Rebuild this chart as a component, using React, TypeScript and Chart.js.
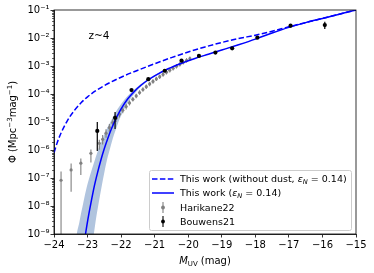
import React, { useEffect, useRef } from 'react';
import { Chart, registerables } from 'chart.js';

Chart.register(...registerables);

// ---------------- data ----------------
const X_MIN = -24;
const X_MAX = -15;
const xTickValues = [-24, -23, -22, -21, -20, -19, -18, -17, -16, -15];
const yTickExponents = [-9, -8, -7, -6, -5, -4, -3, -2, -1];
const redshiftLabel = 'z~4';

// This work (without dust), log10 Phi
const noDustM = [-24.0, -23.9, -23.8, -23.6, -23.4, -23.2, -23.0, -22.75, -22.5, -22.0, -21.5, -21.0, -20.5, -20.0, -19.5, -19.0, -18.5, -18.0, -17.5, -17.0, -16.5, -16.0, -15.5, -15.0];
const noDustLogPhi = [-6.1, -5.72, -5.42, -4.95, -4.6, -4.32, -4.1, -3.88, -3.7, -3.4, -3.15, -2.92, -2.7, -2.5, -2.32, -2.16, -2.02, -1.9, -1.76, -1.6, -1.45, -1.3, -1.15, -1.0];

// This work (with dust), log10 Phi
const dustM = [-23.1, -23.0, -22.9, -22.8, -22.7, -22.6, -22.5, -22.4, -22.3, -22.2, -22.1, -22.0, -21.8, -21.6, -21.4, -21.2, -21.0, -20.6, -20.2, -19.8, -19.4, -19.0, -18.5, -18.0, -17.5, -17.0, -16.5, -16.0, -15.5, -15.0];
const dustLogPhi = [-9.3, -8.55, -7.9, -7.3, -6.8, -6.35, -5.95, -5.6, -5.28, -5.0, -4.75, -4.53, -4.17, -3.9, -3.68, -3.5, -3.35, -3.1, -2.9, -2.73, -2.58, -2.43, -2.24, -2.04, -1.82, -1.62, -1.45, -1.3, -1.15, -1.0];

// uncertainty band edges
const bandUpperM = [-23.6, -23.35, -23.24, -23.13, -23.02, -22.9, -22.78, -22.67, -22.55, -22.44, -22.32, -22.21, -22.1, -21.88, -21.66, -21.45, -21.04, -20.23, -19.02, -18.01, -17.0, -16.0, -15.0];
const bandUpperLogPhi = [-14, -9.3, -8.55, -7.9, -7.3, -6.8, -6.35, -5.95, -5.6, -5.28, -5.0, -4.75, -4.53, -4.17, -3.9, -3.68, -3.35, -2.9, -2.43, -2.04, -1.62, -1.3, -1.0];
const bandLowerM = [-23.6, -22.85, -22.76, -22.67, -22.58, -22.5, -22.42, -22.33, -22.25, -22.16, -22.08, -21.99, -21.9, -21.72, -21.54, -21.35, -20.96, -20.17, -18.98, -17.99, -17.0, -16.0, -15.0];
const bandLowerLogPhi = [-14, -9.3, -8.55, -7.9, -7.3, -6.8, -6.35, -5.95, -5.6, -5.28, -5.0, -4.75, -4.53, -4.17, -3.9, -3.68, -3.35, -2.9, -2.43, -2.04, -1.62, -1.3, -1.0];

// Harikane22
const harikaneM = [-23.79, -23.49, -23.2, -22.9, -22.65, -22.55, -22.45, -22.35, -22.25, -22.15, -22.05, -21.95, -21.85, -21.75, -21.65, -21.55, -21.45, -21.35, -21.25, -21.15, -21.05, -20.95, -20.85, -20.75, -20.65, -20.55, -20.45, -20.35, -20.25, -20.15, -20.05, -19.95];
const harikaneLogPhi = [-7.08, -6.71, -6.47, -6.12, -5.76, -5.62, -5.4, -5.2, -5.02, -4.87, -4.72, -4.58, -4.45, -4.32, -4.19, -4.07, -3.95, -3.84, -3.74, -3.64, -3.55, -3.46, -3.38, -3.3, -3.22, -3.15, -3.08, -3.01, -2.94, -2.87, -2.8, -2.74];
const harikaneLogLo = [-10.0, -7.49, -6.89, -6.45, -5.99, -5.8, -5.56, -5.35, -5.16, -5.0, -4.84, -4.69, -4.55, -4.41, -4.27, -4.15, -4.03, -3.92, -3.82, -3.72, -3.63, -3.54, -3.46, -3.38, -3.3, -3.23, -3.16, -3.09, -3.02, -2.95, -2.88, -2.82];
const harikaneLogHi = [-6.77, -6.48, -6.3, -5.98, -5.63, -5.46, -5.26, -5.07, -4.9, -4.76, -4.61, -4.48, -4.36, -4.23, -4.11, -3.99, -3.87, -3.76, -3.66, -3.56, -3.47, -3.38, -3.3, -3.22, -3.14, -3.07, -3.0, -2.93, -2.86, -2.79, -2.72, -2.66];

// Bouwens21
const bouwensM = [-22.71, -22.18, -21.69, -21.19, -20.7, -20.2, -19.68, -19.19, -18.69, -17.94, -16.95, -15.93];
const bouwensLogPhi = [-5.32, -4.85, -3.86, -3.47, -3.17, -2.81, -2.64, -2.52, -2.37, -1.99, -1.56, -1.54];
const bouwensLogLo = [-6.04, -5.25, -3.9, -3.51, -3.2, -2.84, -2.67, -2.55, -2.43, -2.02, -1.62, -1.68];
const bouwensLogHi = [-5.0, -4.64, -3.82, -3.44, -3.14, -2.78, -2.61, -2.49, -2.32, -1.96, -1.5, -1.42];

const legendLabels = ['This work (without dust, ', 'This work (', 'Harikane22', 'Bouwens21'];

// ---------------- helpers ----------------
const pow10 = (v: number) => Math.pow(10, v);
const toPoints = (ms: number[], logs: number[]) => ms.map((m, i) => ({ x: m, y: pow10(logs[i]) }));
const SUP: Record<string, string> = { '-': '\u207B', '0': '\u2070', '1': '\u00B9', '2': '\u00B2', '3': '\u00B3', '4': '\u2074', '5': '\u2075', '6': '\u2076', '7': '\u2077', '8': '\u2078', '9': '\u2079' };
const sup = (s: string) => s.split('').map((c) => SUP[c] || c).join('');
const FAMILY = '"DejaVu Sans", sans-serif';

type Piece = { text: string; font: string; dy?: number };
function drawPieces(ctx: CanvasRenderingContext2D, pieces: Piece[], x: number, y: number, align: 'left' | 'center') {
  let total = 0;
  pieces.forEach((p) => { ctx.font = p.font; total += ctx.measureText(p.text).width; });
  let cx = align === 'center' ? x - total / 2 : x;
  ctx.textAlign = 'left';
  pieces.forEach((p) => {
    ctx.font = p.font;
    ctx.fillText(p.text, cx, y + (p.dy || 0));
    cx += ctx.measureText(p.text).width;
  });
}

const errorBarPlugin = {
  id: 'errorBars',
  beforeDatasetDraw(chart: any, args: any) {
    const ds = chart.data.datasets[args.index];
    if (!ds.errLo) return;
    const { ctx, chartArea } = chart;
    const ys = chart.scales.y;
    ctx.save();
    ctx.beginPath();
    ctx.rect(chartArea.left, chartArea.top, chartArea.right - chartArea.left, chartArea.bottom - chartArea.top);
    ctx.clip();
    ctx.strokeStyle = ds.errColor;
    ctx.lineWidth = ds.errWidth;
    args.meta.data.forEach((pt: any, i: number) => {
      const y1 = ys.getPixelForValue(ds.errLo[i]);
      const y2 = ys.getPixelForValue(ds.errHi[i]);
      ctx.beginPath();
      ctx.moveTo(pt.x, y1);
      ctx.lineTo(pt.x, y2);
      ctx.stroke();
    });
    ctx.restore();
  },
};

const decorPlugin = {
  id: 'decor',
  afterDraw(chart: any) {
    const { ctx, chartArea } = chart;
    const ys = chart.scales.y;
    const { left, right, top, bottom } = chartArea;
    ctx.save();
    // minor ticks on y
    ctx.strokeStyle = '#000';
    ctx.lineWidth = 0.6;
    for (let e = -9; e < -1; e++) {
      for (let m = 2; m <= 9; m++) {
        const py = Math.round(ys.getPixelForValue(m * Math.pow(10, e))) + 0.5;
        ctx.beginPath();
        ctx.moveTo(left - 2, py);
        ctx.lineTo(left, py);
        ctx.stroke();
      }
    }
    // frame
    ctx.lineWidth = 0.8;
    ctx.strokeRect(left, top, right - left, bottom - top);

    ctx.fillStyle = '#000';
    ctx.textBaseline = 'alphabetic';
    // redshift label
    ctx.font = `10.5px ${FAMILY}`;
    ctx.textAlign = 'center';
    ctx.fillText(redshiftLabel, 99, 39);

    // x title
    drawPieces(ctx, [
      { text: 'M', font: `italic 10px ${FAMILY}` },
      { text: 'UV', font: `7px ${FAMILY}`, dy: 2 },
      { text: ' (mag)', font: `10px ${FAMILY}` },
    ], (left + right) / 2, 264, 'center');

    // y title
    ctx.save();
    ctx.translate(16, (top + bottom) / 2);
    ctx.rotate(-Math.PI / 2);
    drawPieces(ctx, [
      { text: '\u03A6 (Mpc', font: `10px ${FAMILY}` },
      { text: '\u22123', font: `7px ${FAMILY}`, dy: -4 },
      { text: 'mag', font: `10px ${FAMILY}` },
      { text: '\u22121', font: `7px ${FAMILY}`, dy: -4 },
      { text: ')', font: `10px ${FAMILY}` },
    ], 0, 0, 'center');
    ctx.restore();

    // legend
    const bx = 149.5, by = 170.5, bw = 202, bh = 60;
    ctx.beginPath();
    ctx.roundRect(bx, by, bw, bh, 2);
    ctx.fillStyle = 'rgba(255,255,255,0.8)';
    ctx.fill();
    ctx.strokeStyle = '#cccccc';
    ctx.lineWidth = 1;
    ctx.stroke();

    const rows = [179, 193, 207.5, 221.5];
    const hx0 = 152, hx1 = 174, tx = 180;
    // dashed handle
    ctx.strokeStyle = '#0000ff';
    ctx.lineWidth = 1.5;
    ctx.setLineDash([5.5, 2.4]);
    ctx.beginPath(); ctx.moveTo(hx0, rows[0]); ctx.lineTo(hx1, rows[0]); ctx.stroke();
    ctx.setLineDash([]);
    ctx.beginPath(); ctx.moveTo(hx0, rows[1]); ctx.lineTo(hx1, rows[1]); ctx.stroke();
    // errorbar handles
    const hc = (hx0 + hx1) / 2;
    [[rows[2], '#808080'], [rows[3], '#000000']].forEach(([ry, col]: any) => {
      ctx.strokeStyle = col;
      ctx.fillStyle = col;
      ctx.lineWidth = 1.1;
      ctx.beginPath(); ctx.moveTo(hc, ry - 5.5); ctx.lineTo(hc, ry + 5.5); ctx.stroke();
      ctx.beginPath(); ctx.arc(hc, ry, 1.9, 0, Math.PI * 2); ctx.fill();
    });
    ctx.fillStyle = '#000';
    const F = `9.5px ${FAMILY}`;
    const FI = `italic 9.5px ${FAMILY}`;
    const FS = `italic 6.7px ${FAMILY}`;
    const base = 3.4;
    drawPieces(ctx, [
      { text: legendLabels[0], font: F },
      { text: '\u03B5', font: FI },
      { text: 'N', font: FS, dy: 2 },
      { text: ' = 0.14)', font: F },
    ], tx, rows[0] + base, 'left');
    drawPieces(ctx, [
      { text: legendLabels[1], font: F },
      { text: '\u03B5', font: FI },
      { text: 'N', font: FS, dy: 2 },
      { text: ' = 0.14)', font: F },
    ], tx, rows[1] + base, 'left');
    drawPieces(ctx, [{ text: legendLabels[2], font: F }], tx, rows[2] + base, 'left');
    drawPieces(ctx, [{ text: legendLabels[3], font: F }], tx, rows[3] + base, 'left');
    ctx.restore();
  },
};

export default function App() {
  const canvasRef = useRef<HTMLCanvasElement | null>(null);

  useEffect(() => {
    if (!canvasRef.current) return;
    const datasets: any[] = [
      {
        label: 'band upper',
        data: toPoints(bandUpperM, bandUpperLogPhi),
        borderWidth: 0,
        pointRadius: 0,
        fill: false,
        cubicInterpolationMode: 'monotone',
        order: 10,
      },
      {
        label: 'band lower',
        data: toPoints(bandLowerM, bandLowerLogPhi),
        borderWidth: 0,
        pointRadius: 0,
        fill: '-1',
        backgroundColor: 'rgb(176,196,222)',
        cubicInterpolationMode: 'monotone',
        order: 10,
      },
      {
        label: 'Harikane22',
        data: toPoints(harikaneM, harikaneLogPhi),
        showLine: false,
        pointRadius: 1.6,
        pointBackgroundColor: '#808080',
        pointBorderWidth: 0,
        errLo: harikaneLogLo.map(pow10),
        errHi: harikaneLogHi.map(pow10),
        errColor: '#808080',
        errWidth: 1.1,
        order: 5,
      },
      {
        label: 'This work (without dust)',
        data: toPoints(noDustM, noDustLogPhi),
        borderColor: '#0000ff',
        borderWidth: 1.5,
        borderDash: [5.5, 2.4],
        pointRadius: 0,
        fill: false,
        cubicInterpolationMode: 'monotone',
        order: 3,
      },
      {
        label: 'This work',
        data: toPoints(dustM, dustLogPhi),
        borderColor: '#0000ff',
        borderWidth: 1.5,
        pointRadius: 0,
        fill: false,
        cubicInterpolationMode: 'monotone',
        order: 2,
      },
      {
        label: 'Bouwens21',
        data: toPoints(bouwensM, bouwensLogPhi),
        showLine: false,
        pointRadius: 2.1,
        pointBackgroundColor: '#000000',
        pointBorderWidth: 0,
        errLo: bouwensLogLo.map(pow10),
        errHi: bouwensLogHi.map(pow10),
        errColor: '#000000',
        errWidth: 1.2,
        order: 1,
      },
    ];

    const tickFont = { family: FAMILY, size: 10 };
    const chart = new Chart(canvasRef.current, {
      type: 'line',
      data: { datasets },
      options: {
        animation: false,
        responsive: false,
        maintainAspectRatio: false,
        devicePixelRatio: 1,
        layout: { padding: { top: 10, right: 18, left: 0, bottom: 0 } },
        plugins: { legend: { display: false }, tooltip: { enabled: false } },
        scales: {
          x: {
            type: 'linear',
            min: X_MIN,
            max: X_MAX,
            afterBuildTicks: (s: any) => { s.ticks = xTickValues.map((v) => ({ value: v })); },
            afterFit: (s: any) => { s.height = 39; },
            ticks: {
              autoSkip: false,
              maxRotation: 0,
              padding: 2,
              color: '#000',
              font: tickFont,
              callback: (v: any) => (v < 0 ? '\u2212' + Math.abs(v) : String(v)),
            },
            grid: { drawOnChartArea: false, drawTicks: true, tickLength: 3.5, tickColor: '#000', tickWidth: 0.8 },
            border: { display: true, color: '#000', width: 0.8 },
          },
          y: {
            type: 'logarithmic',
            min: pow10(yTickExponents[0]),
            max: pow10(yTickExponents[yTickExponents.length - 1]),
            afterBuildTicks: (s: any) => { s.ticks = yTickExponents.map((e) => ({ value: pow10(e), major: true })); },
            afterFit: (s: any) => { s.width = 54; },
            ticks: {
              autoSkip: false,
              padding: 1,
              color: '#000',
              font: tickFont,
              callback: (v: any) => '10' + sup(String(Math.round(Math.log10(v)))),
            },
            grid: { drawOnChartArea: false, drawTicks: true, tickLength: 3.5, tickColor: '#000', tickWidth: 0.8 },
            border: { display: true, color: '#000', width: 0.8 },
          },
        },
      } as any,
      plugins: [errorBarPlugin, decorPlugin],
    });
    return () => chart.destroy();
  }, []);

  return (
    <div style={{ position: 'fixed', left: 0, top: 0, width: 374, height: 273, background: '#fff' }}>
      <canvas ref={canvasRef} width={374} height={273} style={{ display: 'block', width: 374, height: 273 }} />
    </div>
  );
}
